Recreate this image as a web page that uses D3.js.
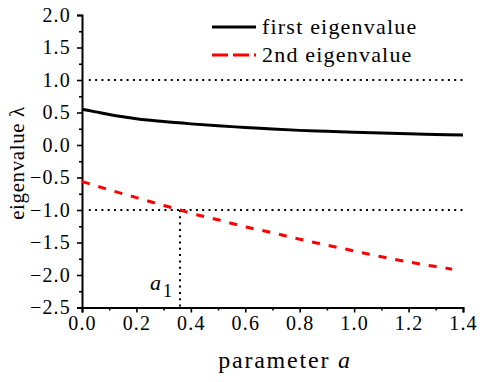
<!DOCTYPE html>
<html>
<head>
<meta charset="utf-8">
<script src="https://cdn.jsdelivr.net/npm/d3@7"></script>
<style>
  html, body { margin: 0; padding: 0; background: #fff; }
  svg { display: block; }
  text { font-family: "Liberation Serif", "Times New Roman", serif; fill: #000; }
</style>
</head>
<body>
<svg id="chart" width="487" height="382"></svg>
<script>
// Parameter values and the two eigenvalue branches
const paramA = [0, 0.05, 0.1, 0.15, 0.2, 0.3, 0.4, 0.5, 0.6, 0.7, 0.8, 0.9, 1.0, 1.1, 1.2, 1.3, 1.4];
const firstEigen = [0.55, 0.51, 0.47, 0.435, 0.405, 0.36, 0.325, 0.295, 0.27, 0.245, 0.225, 0.21, 0.195, 0.183, 0.172, 0.163, 0.155];

const paramA2 = [0, 0.1, 0.2, 0.3, 0.36, 0.4, 0.5, 0.6, 0.7, 0.8, 0.9, 1.0, 1.1, 1.2, 1.3, 1.36];
const secondEigen = [-0.56, -0.69, -0.81, -0.93, -1.0, -1.05, -1.15, -1.26, -1.35, -1.45, -1.54, -1.63, -1.72, -1.80, -1.87, -1.91];

// Stability bounds and the crossing point a1
const bounds = [1.0, -1.0];
const a1 = 0.36;

const xTicks = [0, 0.2, 0.4, 0.6, 0.8, 1.0, 1.2, 1.4];
const yTicks = [2.0, 1.5, 1.0, 0.5, 0.0, -0.5, -1.0, -1.5, -2.0, -2.5];

const svg = d3.select("#chart");
const plot = { left: 82, right: 463, top: 15, bottom: 307.5 };

const x = d3.scaleLinear().domain([0, 1.4]).range([plot.left, plot.right]);
const y = d3.scaleLinear().domain([-2.5, 2.0]).range([plot.bottom, plot.top]);

const tickFont = sel => sel
  .style("font-size", "20px").style("letter-spacing", "1.2px")
  .style("font-family", "'Liberation Serif', serif");

// Axes: major + minor ticks, outward
const xMinor = svg.append("g").attr("transform", `translate(0,${plot.bottom})`)
  .call(d3.axisBottom(x).tickValues(d3.range(0.1, 1.4, 0.2)).tickSize(3).tickFormat(""));
xMinor.select(".domain").remove();
xMinor.selectAll(".tick line").attr("stroke-width", 1.6);
const xMajor = svg.append("g").attr("transform", `translate(0,${plot.bottom})`)
  .call(d3.axisBottom(x).tickValues(xTicks).tickSize(5).tickPadding(3).tickFormat(d3.format(".1f")));
xMajor.select(".domain").attr("stroke-width", 2);
xMajor.selectAll(".tick line").attr("stroke-width", 1.6);
xMajor.selectAll(".tick text").call(tickFont);

const yMinor = svg.append("g").attr("transform", `translate(${plot.left},0)`)
  .call(d3.axisLeft(y).tickValues(d3.range(-2.25, 2.0, 0.5)).tickSize(3).tickFormat(""));
yMinor.select(".domain").remove();
yMinor.selectAll(".tick line").attr("stroke-width", 1.6);
const yMajor = svg.append("g").attr("transform", `translate(${plot.left},0)`)
  .call(d3.axisLeft(y).tickValues(yTicks).tickSize(5).tickPadding(6).tickFormat(d3.format(".1f")));
yMajor.select(".domain").attr("stroke-width", 2);
yMajor.selectAll(".tick line").attr("stroke-width", 1.6);
yMajor.selectAll(".tick text").call(tickFont);

// Dotted bounds at ±1
svg.append("g").selectAll("line").data(bounds).join("line")
  .attr("x1", x(0.025)).attr("x2", x(1.4))
  .attr("y1", d => y(d)).attr("y2", d => y(d))
  .attr("stroke", "#000").attr("stroke-width", 2)
  .attr("stroke-dasharray", "2,4.3");

// Vertical dotted marker at a1
svg.append("line")
  .attr("x1", x(a1)).attr("x2", x(a1))
  .attr("y1", y(-1.0)).attr("y2", y(-2.5))
  .attr("stroke", "#000").attr("stroke-width", 2)
  .attr("stroke-dasharray", "2,4.3");

const line = d3.line().curve(d3.curveMonotoneX);

svg.append("path")
  .attr("d", line(paramA.map((a, i) => [x(a), y(firstEigen[i])])))
  .attr("fill", "none").attr("stroke", "#000").attr("stroke-width", 3);

svg.append("path")
  .attr("d", line(paramA2.map((a, i) => [x(a), y(secondEigen[i])])))
  .attr("fill", "none").attr("stroke", "#ff0000").attr("stroke-width", 3)
  .attr("stroke-dasharray", "8,9");

// Legend
const legend = svg.append("g");
legend.append("line").attr("x1", 212).attr("x2", 256).attr("y1", 27).attr("y2", 27)
  .attr("stroke", "#000").attr("stroke-width", 3);
legend.append("text").attr("x", 262).attr("y", 34).text("first eigenvalue")
  .style("font-size", "22px").style("letter-spacing", "1.2px");
legend.append("line").attr("x1", 212).attr("x2", 256).attr("y1", 55).attr("y2", 55)
  .attr("stroke", "#ff0000").attr("stroke-width", 3).attr("stroke-dasharray", "16,5");
legend.append("text").attr("x", 262).attr("y", 62).text("2nd eigenvalue")
  .style("font-size", "22px").style("letter-spacing", "1.2px");

// a1 label
const a1Label = svg.append("text").attr("x", 150).attr("y", 290).style("font-size", "22px");
a1Label.append("tspan").style("font-style", "italic").text("a");
a1Label.append("tspan").attr("dy", 7).attr("dx", 2).style("font-size", "18px").text("1");

// Axis titles
const xTitle = svg.append("text").attr("x", 285).attr("y", 368).attr("text-anchor", "middle")
  .style("font-size", "24px").style("letter-spacing", "1.8px");
xTitle.append("tspan").text("parameter ");
xTitle.append("tspan").style("font-style", "italic").text("a");

svg.append("text")
  .attr("transform", "translate(24,163) rotate(-90)")
  .attr("text-anchor", "middle")
  .style("font-size", "21px").style("letter-spacing", "0.6px")
  .text("eigenvalue  λ");
</script>
</body>
</html>
